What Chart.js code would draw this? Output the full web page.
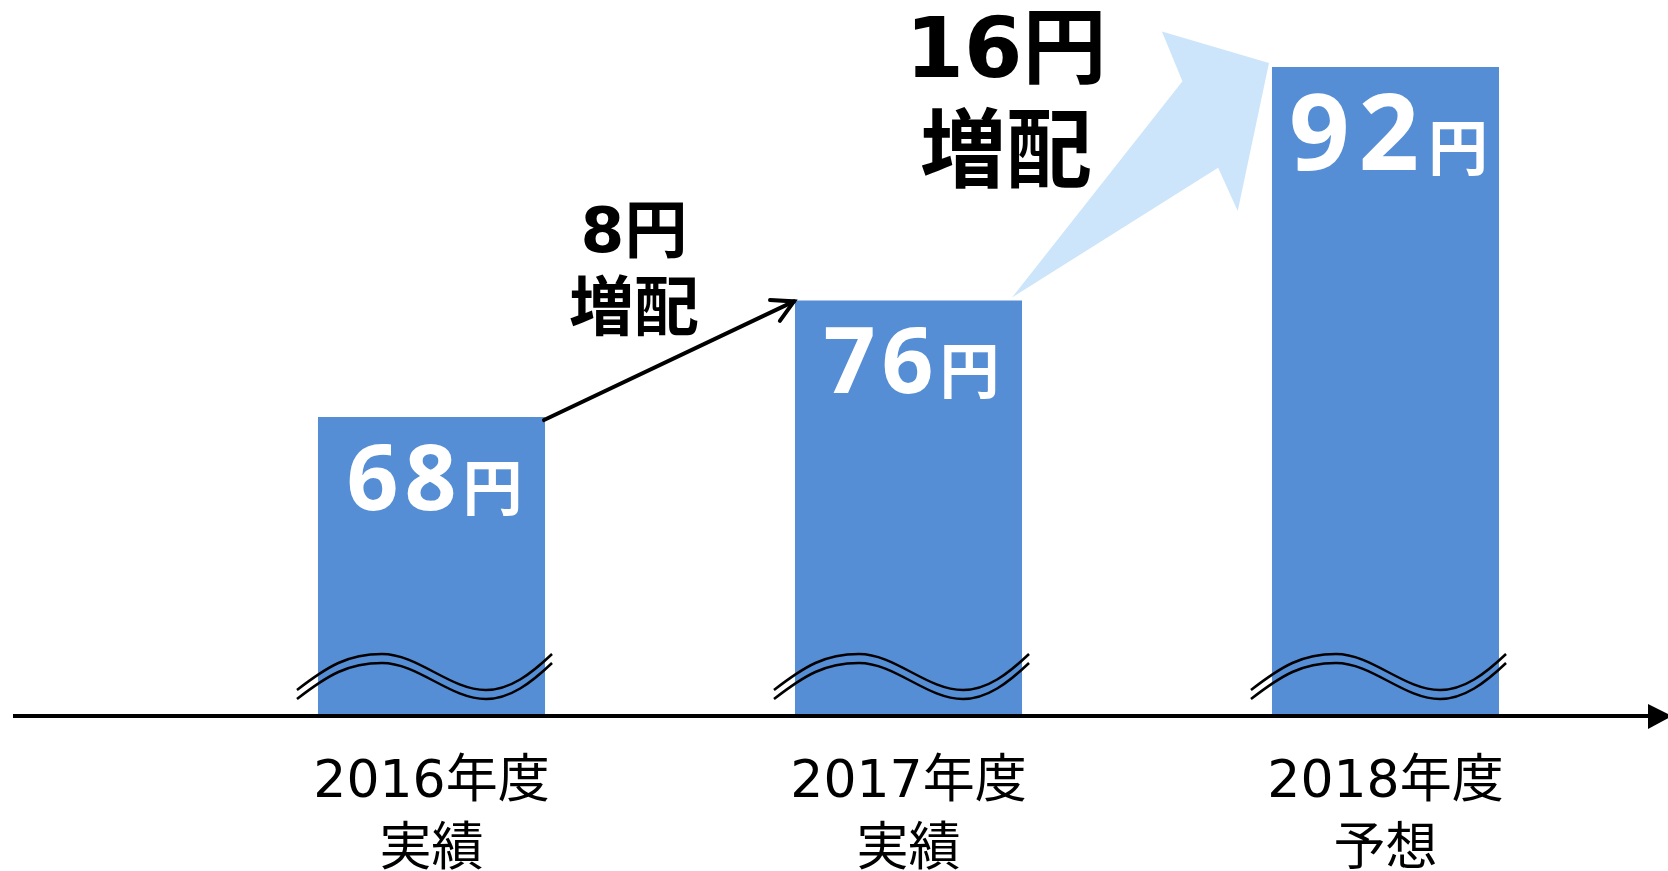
<!DOCTYPE html>
<html lang="ja">
<head>
<meta charset="utf-8">
<script src="https://cdn.jsdelivr.net/npm/chart.js@4.4.1/dist/chart.umd.min.js"></script>
<style>
  html, body { margin: 0; padding: 0; background: #fff; }
  #wrap { width: 1668px; height: 871px; }
</style>
</head>
<body>
<div id="wrap"><canvas id="dividendChart"></canvas></div>
<script>
const years = ["2016年度", "2017年度", "2018年度"];
const status = ["実績", "実績", "予想"];
const dividends = [68, 76, 92];
const increases = [8, 16];
const unit = "円";
const increaseWord = "増配";

const barColor = "#558ED5";
const fontLatin = '"DejaVu Sans", "Noto Sans CJK JP", sans-serif';
const fontValue = '"Open Sans", "Noto Sans CJK JP", sans-serif';

function drawWave(ctx, bar, bottom, dy) {
  const left = bar.x - bar.width / 2;
  const right = bar.x + bar.width / 2;
  const peakY = bottom - 62 + dy;
  const lowY = bottom - 26 + dy;
  ctx.beginPath();
  ctx.moveTo(left - 21, lowY);
  ctx.bezierCurveTo(left + 10, peakY + 12, left + 30, peakY, left + 64, peakY);
  ctx.bezierCurveTo(left + 100, peakY, left + 132, lowY, left + 168, lowY);
  ctx.bezierCurveTo(left + 192, lowY, right - 14, lowY - 16, right + 7, peakY);
  ctx.stroke();
}

const annotations = {
  id: "annotations",
  beforeDatasetsDraw(chart) {
    const ctx = chart.ctx;
    const bars = chart.getDatasetMeta(0).data;
    const b2 = bars[1], b3 = bars[2];
    // light blue growth arrow between 2017 and 2018
    const tailX = b2.x + b2.width / 2 - 10, tailY = b2.y - 3;
    const tipX = b3.x - b3.width / 2 - 3, tipY = b3.y - 4;
    const sx = (tipX - tailX) / 288, sy = (tipY - tailY) / (63 - 307);
    const shape = [[992, 307], [1183, 82], [1160, 30], [1280, 63], [1245, 217], [1223, 172]];
    ctx.save();
    ctx.fillStyle = "#CCE5FA";
    ctx.beginPath();
    shape.forEach((p, i) => {
      const x = tailX + (p[0] - 992) * sx;
      const y = tailY + (p[1] - 307) * sy;
      if (i === 0) ctx.moveTo(x, y); else ctx.lineTo(x, y);
    });
    ctx.closePath();
    ctx.fill();
    ctx.restore();
  },
  afterDatasetsDraw(chart) {
    const ctx = chart.ctx;
    const area = chart.chartArea;
    const bars = chart.getDatasetMeta(0).data;

    // wavy break marks
    ctx.save();
    ctx.strokeStyle = "#000";
    ctx.lineWidth = 2.5;
    bars.forEach(bar => {
      drawWave(ctx, bar, area.bottom, 0);
      drawWave(ctx, bar, area.bottom, 9);
    });
    ctx.restore();

    // value labels inside the bars (forecast one is larger)
    ctx.save();
    ctx.fillStyle = "#fff";
    ctx.textBaseline = "alphabetic";
    ctx.textAlign = "left";
    bars.forEach((bar, i) => {
      const big = i === bars.length - 1;
      const numFont = "bold " + (big ? 106 : 91) + "px " + fontValue;
      const spacing = big ? "9px" : "6px";
      const num = String(dividends[i]);
      ctx.letterSpacing = spacing;
      ctx.font = numFont;
      const w1 = ctx.measureText(num).width;
      ctx.letterSpacing = "0px";
      ctx.font = "bold 60px " + fontLatin;
      const w2 = ctx.measureText(unit).width;
      const x0 = bar.x + 3 - (w1 + w2) / 2;
      const base = bar.y + (big ? 103 : 93);
      ctx.letterSpacing = spacing;
      ctx.font = numFont;
      ctx.fillText(num, x0, base);
      ctx.letterSpacing = "0px";
      ctx.font = "bold 60px " + fontLatin;
      ctx.fillText(unit, x0 + w1, base);
    });
    ctx.restore();

    // black arrow 2016 -> 2017
    const b1 = bars[0], b2 = bars[1], b3 = bars[2];
    const ax0 = b1.x + b1.width / 2 - 1, ay0 = b1.y + 3;
    const ax1 = b2.x - b2.width / 2 - 1, ay1 = b2.y + 1;
    ctx.save();
    ctx.strokeStyle = "#000";
    ctx.lineWidth = 4;
    ctx.lineCap = "round";
    ctx.beginPath();
    ctx.moveTo(ax0, ay0);
    ctx.lineTo(ax1, ay1);
    ctx.stroke();
    const ang = Math.atan2(ay1 - ay0, ax1 - ax0);
    const head = 24, spread = 0.5;
    ctx.beginPath();
    ctx.moveTo(ax1 - head * Math.cos(ang - spread), ay1 - head * Math.sin(ang - spread));
    ctx.lineTo(ax1, ay1);
    ctx.lineTo(ax1 - head * Math.cos(ang + spread), ay1 - head * Math.sin(ang + spread));
    ctx.stroke();
    ctx.restore();

    // increase labels
    ctx.save();
    ctx.fillStyle = "#000";
    ctx.textAlign = "center";
    ctx.textBaseline = "middle";
    const midX = (b1.x + b1.width / 2 + b2.x - b2.width / 2) / 2 - 36;
    ctx.font = "bold 63px " + fontLatin;
    ctx.fillText(increases[0] + unit, midX, 236);
    ctx.font = "bold 65px " + fontLatin;
    ctx.fillText(increaseWord, midX, 313);
    const x2 = b3.x - b3.width / 2 - 266;
    ctx.font = "bold 84px " + fontLatin;
    ctx.fillText(increases[1] + unit, x2, 55);
    ctx.font = "bold 86px " + fontLatin;
    ctx.fillText(increaseWord, x2, 159);
    ctx.restore();

    // horizontal axis with arrow
    const yAxis = area.bottom;
    ctx.save();
    ctx.strokeStyle = "#000";
    ctx.fillStyle = "#000";
    ctx.lineWidth = 4;
    ctx.beginPath();
    ctx.moveTo(13, yAxis);
    ctx.lineTo(1652, yAxis);
    ctx.stroke();
    ctx.beginPath();
    ctx.moveTo(1648, yAxis - 12);
    ctx.lineTo(1672, yAxis);
    ctx.lineTo(1648, yAxis + 13);
    ctx.closePath();
    ctx.fill();
    ctx.restore();
  }
};

const labels = years.map((y, i) => [y, status[i]]);

new Chart(document.getElementById("dividendChart"), {
  type: "bar",
  data: {
    labels: labels,
    datasets: [{
      data: dividends,
      backgroundColor: barColor,
      borderWidth: 0,
      categoryPercentage: 1,
      barPercentage: 0.476
    }]
  },
  options: {
    responsive: true,
    maintainAspectRatio: false,
    animation: false,
    layout: { padding: { top: 0, left: 193, right: 44, bottom: 0 } },
    plugins: {
      legend: { display: false },
      tooltip: { enabled: false }
    },
    scales: {
      x: {
        grid: { display: false, drawTicks: false },
        border: { display: false },
        ticks: {
          color: "#000",
          padding: 34,
          maxRotation: 0,
          font: { family: fontLatin, size: 52, lineHeight: 1.3 }
        },
        afterFit(scale) {
          scale.height = 155;
        }
      },
      y: {
        display: false,
        min: 47.5,
        max: 96.6
      }
    }
  },
  plugins: [annotations]
});
</script>
</body>
</html>
